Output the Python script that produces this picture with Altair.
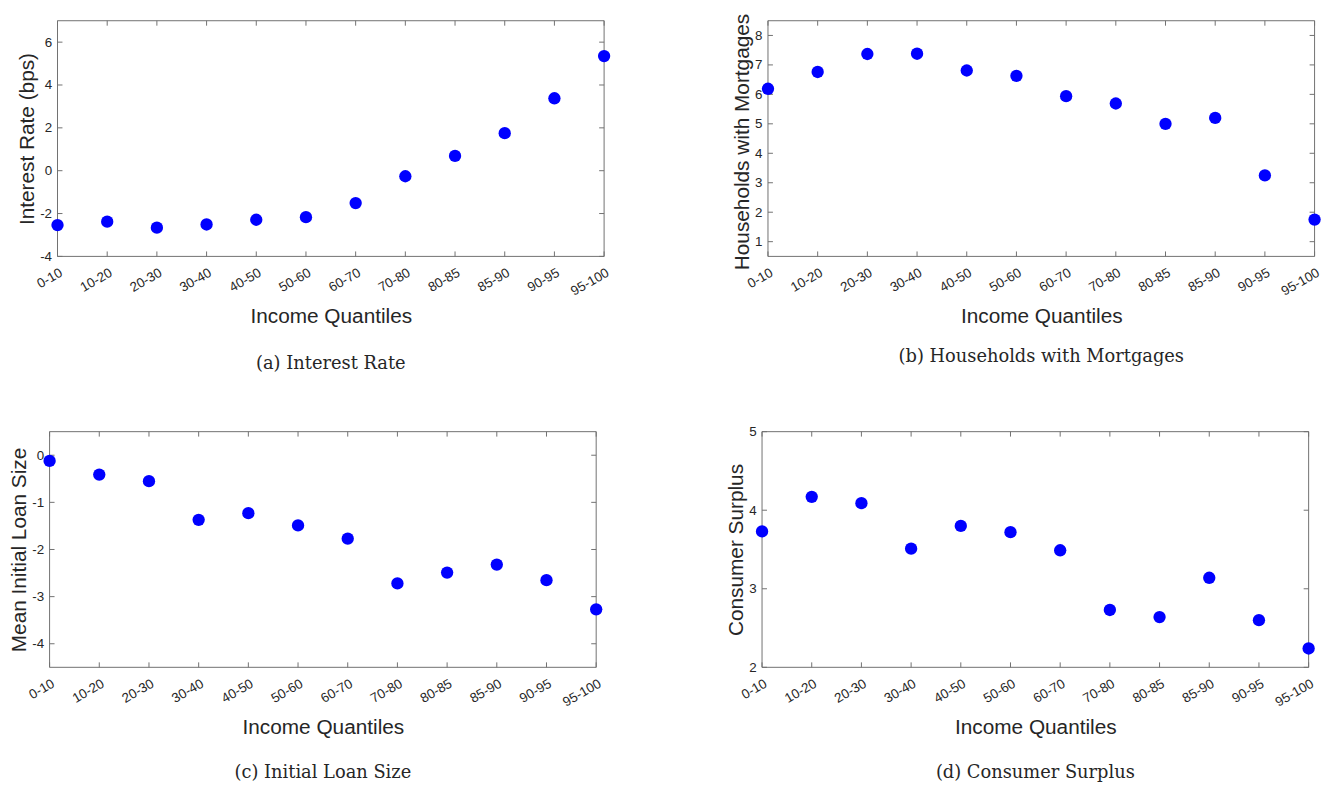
import altair as alt
import pandas as pd

quantiles = ["0-10", "10-20", "20-30", "30-40", "40-50", "50-60",
             "60-70", "70-80", "80-85", "85-90", "90-95", "95-100"]

interest_rate = [-2.54, -2.38, -2.66, -2.51, -2.29, -2.17, -1.51, -0.26, 0.69, 1.75, 3.38, 5.35]
households = [6.19, 6.76, 7.37, 7.38, 6.81, 6.63, 5.94, 5.69, 5.00, 5.20, 3.25, 1.75]
loan_size = [-0.12, -0.41, -0.55, -1.37, -1.23, -1.49, -1.77, -2.72, -2.49, -2.32, -2.65, -3.27]
consumer_surplus = [3.73, 4.17, 4.09, 3.51, 3.80, 3.72, 3.49, 2.73, 2.64, 3.14, 2.60, 2.24]

ticks_a = [-4, -2, 0, 2, 4, 6]
ticks_b = [1, 2, 3, 4, 5, 6, 7, 8]
ticks_c = [-4, -3, -2, -1, 0]
ticks_d = [2, 3, 4, 5]

domain_a = [-4, 7]
domain_b = [0.5, 8.5]
domain_c = [-4.5, 0.5]
domain_d = [2, 5]

W, H = 552, 238
BOX = "#707070"
TXT = "#262626"


def panel(values, domain, ticks, ytitle, caption, cap_offset, x0=0, title_dy=0):
    df = pd.DataFrame({"q": quantiles, "v": values})
    tdf = pd.DataFrame({"v": ticks})
    one = pd.DataFrame({"k": [0]})
    xenc = alt.X("q:N", sort=quantiles,
                 scale=alt.Scale(type="point", padding=0, range=[x0, x0 + W]),
                 axis=alt.Axis(title="Income Quantiles", labelAngle=330,
                               labelAlign="right", labelBaseline="top",
                               labelPadding=9, titlePadding=8,
                               labelOverlap=False, labelBound=False))
    yaxis_kw = dict(title=ytitle, values=ticks, labelPadding=6, titlePadding=2,
                    labelExpr="'' + datum.value", labelOverlap=False)
    if x0:
        yaxis_kw["offset"] = -x0
    if title_dy:
        yaxis_kw["titleY"] = H / 2 + title_dy
    yenc = alt.Y("v:Q", scale=alt.Scale(domain=domain, nice=False, zero=False),
                 axis=alt.Axis(**yaxis_kw))
    rule = dict(color=BOX, strokeWidth=1)
    box = [
        alt.Chart(one).mark_rule(**rule).encode(
            x=alt.value(x0), x2=alt.value(x0 + W), y=alt.value(0)),
        alt.Chart(one).mark_rule(**rule).encode(
            x=alt.value(x0), x2=alt.value(x0 + W), y=alt.value(H)),
        alt.Chart(one).mark_rule(**rule).encode(
            x=alt.value(x0), y=alt.value(0), y2=alt.value(H)),
        alt.Chart(one).mark_rule(**rule).encode(
            x=alt.value(x0 + W), y=alt.value(0), y2=alt.value(H)),
    ]
    xt_b = alt.Chart(df).mark_rule(**rule).encode(
        x=xenc, y=alt.value(H), y2=alt.value(H - 5))
    xt_t = alt.Chart(df).mark_rule(**rule).encode(
        x=xenc, y=alt.value(0), y2=alt.value(5))
    yt_l = alt.Chart(tdf).mark_rule(**rule).encode(
        y=yenc, x=alt.value(x0), x2=alt.value(x0 + 5))
    yt_r = alt.Chart(tdf).mark_rule(**rule).encode(
        y=yenc, x=alt.value(x0 + W - 5), x2=alt.value(x0 + W))
    pts = alt.Chart(df).mark_circle(size=155, color="#0000ff", opacity=1).encode(
        x=xenc, y=yenc)
    return alt.layer(*box, xt_b, xt_t, yt_l, yt_r, pts).properties(
        width=W + x0, height=H,
        title=alt.TitleParams(caption, orient="bottom", frame="group",
                              anchor="middle", font="DejaVu Serif", fontSize=18,
                              fontWeight="normal", color=TXT, offset=cap_offset,
                              dx=x0 / 2))


pa = panel(interest_rate, domain_a, ticks_a, "Interest Rate (bps)", "(a) Interest Rate", 29, x0=8)
pb = panel(households, domain_b, ticks_b, "Households with Mortgages",
           "(b) Households with Mortgages", 22, title_dy=3)
pc = panel(loan_size, domain_c, ticks_c, "Mean Initial Loan Size", "(c) Initial Loan Size", 27)
pd_ = panel(consumer_surplus, domain_d, ticks_d, "Consumer Surplus", "(d) Consumer Surplus", 27)

row1 = alt.hconcat(pa, pb, spacing=121.5)
row2 = alt.hconcat(pc, pd_, spacing=123.5)

chart = alt.concat(row1, row2, columns=1, align="none", spacing=52).properties(
    padding={"left": 0, "top": 1, "right": 0, "bottom": 0}
).configure_view(
    stroke=None
).configure_axis(
    grid=False, domain=False, ticks=False, tickSize=0,
    labelFont="Liberation Sans", labelFontSize=13.5, labelColor=TXT,
    titleFont="Liberation Sans", titleFontSize=21, titleFontWeight="normal",
    titleColor=TXT
).configure_title(
    font="DejaVu Serif"
)

chart.save("out.html", embed_options={"renderer": "svg", "actions": False})
